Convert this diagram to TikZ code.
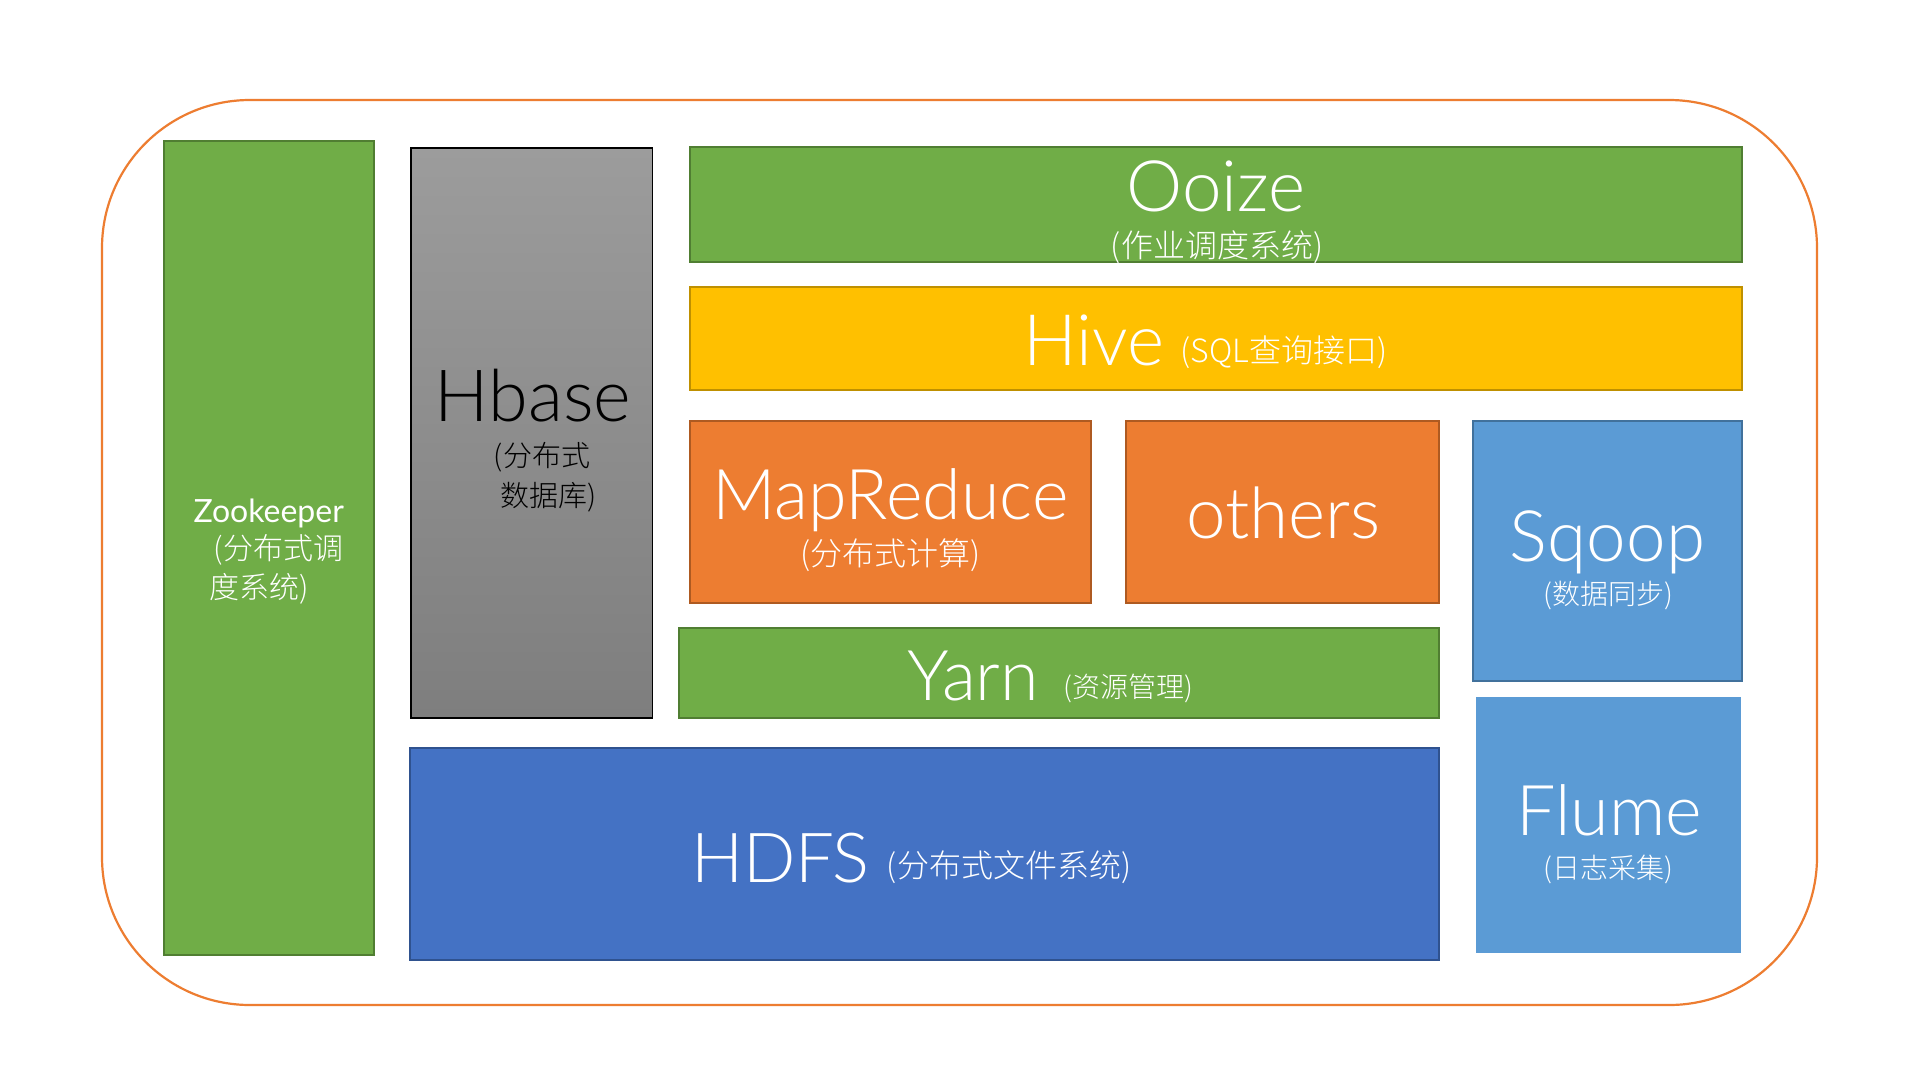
\documentclass[tikz,border=0pt]{standalone}
\usepackage{fontspec}
\IfFontExistsTF{Lato Light}{\setmainfont{Lato Light}}{\setmainfont{Lato}}
\newfontfamily\latoreg{Lato}
\IfFontExistsTF{Noto Sans CJK SC Light}{\newfontfamily\cjk{Noto Sans CJK SC Light}}{\IfFontExistsTF{Noto Sans CJK SC DemiLight}{\newfontfamily\cjk{Noto Sans CJK SC DemiLight}}{\newfontfamily\cjk{Noto Sans CJK SC}}}
\definecolor{gfill}{HTML}{70AD47}
\definecolor{gline}{HTML}{507E32}
\definecolor{yfill}{HTML}{FFC000}
\definecolor{yline}{HTML}{BF9000}
\definecolor{ofill}{HTML}{ED7D31}
\definecolor{oline}{HTML}{AE5A21}
\definecolor{lbfill}{HTML}{5B9BD5}
\definecolor{lbline}{HTML}{41719C}
\definecolor{bfill}{HTML}{4472C4}
\definecolor{bline}{HTML}{2F528F}
\definecolor{hbtop}{HTML}{9C9C9C}
\definecolor{hbbot}{HTML}{7E7E7E}
\tikzset{
  blk/.style={rectangle, anchor=north west, inner sep=0pt, outer sep=0pt, line width=2pt},
  greenbox/.style={blk, fill=gfill, draw=gline},
  big/.style={inner sep=0pt, anchor=base, text=white, font=\fontsize{#1}{#1}\selectfont},
  big/.default=71,
  sub/.style={inner sep=0pt, anchor=center, text=white, font=\cjk\fontsize{#1}{#1}\selectfont},
  sub/.default=32
}
\begin{document}
\begin{tikzpicture}[x=1pt,y=-1pt]
\useasboundingbox (0,0) rectangle (1920,1080);
\fill[white] (0,0) rectangle (1920,1080);
% outer frame
\draw[ofill, line width=2.2pt, rounded corners=148pt] (102,100) rectangle (1817,1005);
% boxes
\node[greenbox, minimum width=210pt, minimum height=814pt] (zk) at (163.5,141) {};
\node[blk, top color=hbtop, bottom color=hbbot, draw=black, line width=1.5pt, minimum width=241.5pt, minimum height=570pt] (hb) at (411,148) {};
\node[greenbox, minimum width=1052pt, minimum height=115pt] (oo) at (690,146.7) {};
\node[blk, fill=yfill, draw=yline, minimum width=1052pt, minimum height=103.3pt] (hv) at (690,286.7) {};
\node[blk, fill=ofill, draw=oline, minimum width=400.5pt, minimum height=182.6pt] (mr) at (690,420.7) {};
\node[blk, fill=ofill, draw=oline, minimum width=313.4pt, minimum height=182.6pt] (ot) at (1125.6,420.7) {};
\node[blk, fill=lbfill, draw=lbline, minimum width=269pt, minimum height=260.3pt] (sq) at (1473,420.7) {};
\node[greenbox, minimum width=760.5pt, minimum height=90.5pt] (yn) at (678.5,627.7) {};
\node[blk, fill=bfill, draw=bline, minimum width=1029.3pt, minimum height=212.3pt] (hd) at (410,747.7) {};
\node[blk, fill=lbfill, minimum width=265pt, minimum height=256pt] (fl) at (1476,697.3) {};
% texts
\node[big=32, font=\latoreg\fontsize{32}{32}\selectfont] (zkT) at (268.7,522.7) {Zookeeper};
\node[sub=30] (zkS1) at (278.5,550) {(分布式调};
\node[sub=30] (zkS2) at (259.6,588.5) {度系统)};
\node[big=72, text=black] (hbT) at (533,421.7) {Hbase};
\node[sub=29, text=black] (hbS1) at (542,457.5) {(分布式};
\node[sub=29, text=black] (hbS2) at (548.8,496.7) {数据库)};
\node[big] (ooT) at (1216,211.7) {Ooize};
\node[sub] (ooS) at (1217,247.4) {(作业调度系统)};
\node[big] (hvT) at (1093.8,365) {Hive};
\node[sub] (hvS) at (1283.8,352) {(SQL查询接口)};
\node[big=70] (mrT) at (890.3,519) {MapReduce};
\node[sub] (mrS) at (890.5,555.3) {(分布式计算)};
\node[big] (otT) at (1283.4,538) {others};
\node[big] (sqT) at (1607.5,561.7) {Sqoop};
\node[sub=28] (sqS) at (1608,595.3) {(数据同步)};
\node[big=70] (ynT) at (973.5,700) {Yarn};
\node[sub=28] (ynS) at (1128.8,688.3) {(资源管理)};
\node[big=69] (hdT) at (780.5,882) {HDFS};
\node[sub] (hdS) at (1009,867.5) {(分布式文件系统)};
\node[big=70] (flT) at (1609,835) {Flume};
\node[sub=28] (flS) at (1608,869.2) {(日志采集)};
\end{tikzpicture}
\end{document}
